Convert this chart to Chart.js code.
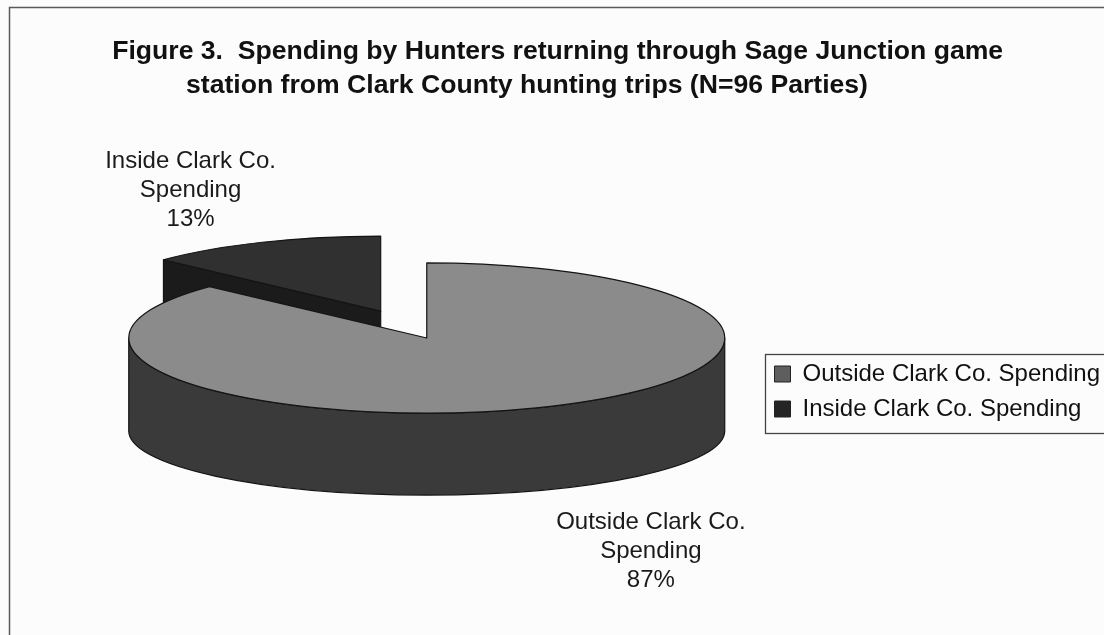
<!DOCTYPE html>
<html><head><meta charset="utf-8">
<script src="https://cdn.jsdelivr.net/npm/chart.js@4.4.1/dist/chart.umd.min.js"></script>
<style>
html,body{margin:0;padding:0;background:#fcfcfc;}
#wrap{position:relative;width:1104px;height:635px;}
</style></head><body>
<div id="wrap"><canvas id="c" width="1104" height="635"></canvas></div>
<script>
// ---- data ----
const categories = ['Outside Clark Co. Spending', 'Inside Clark Co. Spending'];
const shares = [87, 13];
const titleLines = [
  '   Figure 3.  Spending by Hunters returning through Sage Junction game',
  '             station from Clark County hunting trips (N=96 Parties)'
];
const topColors = ['#8b8b8b', '#303030'];
const sideColors = ['#3a3a3a', '#1b1b1b'];
const swatchColors = ['#5e5e5e', '#242424'];
const explode = [0, 116];

const FONT = "'Liberation Sans', Arial, Helvetica, sans-serif";
// view: top plane flattening, bottom plane flattening (slight perspective), wall height
const TILT = 0.252, TILT_B = 0.215, DEPTH = 93;
const LABEL_FX = 1.75, LABEL_FY = 1.75, LABEL_DX = 17, LABEL_LH = 29;

function sliceGeom(arc) {
  const mid = (arc.startAngle + arc.endAngle) / 2;
  const off = arc.options.offset || 0;
  return {
    mid, R: arc.outerRadius, a0: arc.startAngle, a1: arc.endAngle,
    cx: arc.x, cy: arc.y,
    ex: off * Math.cos(mid), ey: off * Math.sin(mid)
  };
}
// project a point of the (flat) pie, given in circle coordinates, onto top or bottom plane
function proj(g, px, py, bottom) {
  return bottom
    ? [g.cx + px, g.cy + DEPTH + py * TILT_B]
    : [g.cx + px, g.cy + py * TILT];
}

const pie3d = {
  id: 'pie3d',
  beforeDraw(chart) {
    const ctx = chart.ctx;
    ctx.save();
    ctx.fillStyle = '#fcfcfc';
    ctx.fillRect(0, 0, chart.width, chart.height);
    ctx.strokeStyle = '#5a5a5a';
    ctx.lineWidth = 1.5;
    ctx.strokeRect(9.5, 7.5, chart.width + 10, chart.height + 10);
    ctx.restore();
  },
  beforeDatasetsDraw(chart) {
    const ctx = chart.ctx;
    const meta = chart.getDatasetMeta(0);
    const items = meta.data.map((arc, i) => ({arc, i, g: sliceGeom(arc)}));
    items.sort((a, b) => Math.sin(a.g.mid) - Math.sin(b.g.mid));
    ctx.save();
    ctx.lineJoin = 'round';
    for (const {arc, i, g} of items) {
      const {R, a0, a1, ex, ey} = g;
      const rim = (t, bottom) => proj(g, ex + R * Math.cos(t), ey + R * Math.sin(t), bottom);
      const ctrT = proj(g, ex, ey, false), ctrB = proj(g, ex, ey, true);
      ctx.strokeStyle = arc.options.borderColor;
      ctx.lineWidth = arc.options.borderWidth;
      const side = sideColors[i];
      // radial faces that face the viewer
      const faces = [];
      if (Math.cos(a0) < -1e-6) faces.push(a0);
      if (Math.cos(a1) > 1e-6) faces.push(a1);
      for (const t of faces) {
        const p = rim(t, false), q = rim(t, true);
        ctx.beginPath();
        ctx.moveTo(ctrT[0], ctrT[1]);
        ctx.lineTo(p[0], p[1]);
        ctx.lineTo(q[0], q[1]);
        ctx.lineTo(ctrB[0], ctrB[1]);
        ctx.closePath();
        ctx.fillStyle = side;
        ctx.fill();
        ctx.stroke();
      }
      // curved outer wall (front half only)
      const TAU = Math.PI * 2;
      for (let n = Math.floor(a0 / TAU) - 1; n <= Math.ceil(a1 / TAU) + 1; n++) {
        const lo = Math.max(a0, n * TAU), hi = Math.min(a1, n * TAU + Math.PI);
        if (hi - lo > 1e-6) {
          const b = rim(hi, true);
          ctx.beginPath();
          ctx.ellipse(ctrT[0], ctrT[1], R, R * TILT, 0, lo, hi, false);
          ctx.lineTo(b[0], b[1]);
          ctx.ellipse(ctrB[0], ctrB[1], R, R * TILT_B, 0, hi, lo, true);
          ctx.closePath();
          ctx.fillStyle = side;
          ctx.fill();
          ctx.stroke();
        }
      }
      // top face
      ctx.beginPath();
      ctx.moveTo(ctrT[0], ctrT[1]);
      ctx.ellipse(ctrT[0], ctrT[1], R, R * TILT, 0, a0, a1, false);
      ctx.closePath();
      ctx.fillStyle = arc.options.backgroundColor;
      ctx.fill();
      ctx.stroke();
    }
    ctx.restore();
    return false;
  },
  afterDraw(chart) {
    const ctx = chart.ctx;
    const meta = chart.getDatasetMeta(0);
    const data = chart.data.datasets[0].data;
    const total = data.reduce((s, v) => s + v, 0);
    ctx.save();
    ctx.font = '24px ' + FONT;
    ctx.fillStyle = '#1a1a1a';
    ctx.textAlign = 'center';
    ctx.textBaseline = 'middle';
    meta.data.forEach((arc, i) => {
      const g = sliceGeom(arc);
      const front = Math.sin(g.mid) > 0;
      const c = proj(g, g.ex, g.ey, false);
      const bx = c[0] + LABEL_FX * g.R * Math.cos(g.mid) + LABEL_DX;
      const by = c[1] + LABEL_FY * g.R * TILT * Math.sin(g.mid) + (front ? DEPTH : 0);
      const words = chart.data.labels[i].split(' ');
      const lines = [words.slice(0, -1).join(' '), words[words.length - 1], Math.round(data[i] / total * 100) + '%'];
      lines.forEach((t, j) => ctx.fillText(t, bx, by + (j - 1) * LABEL_LH));
    });
    // legend frame
    const hb = chart.legend.legendHitBoxes;
    if (hb && hb.length) {
      const l = hb[0].left - 10, t = hb[0].top - 8;
      const last = hb[hb.length - 1];
      const b = last.top + last.height + 12;
      ctx.strokeStyle = '#444';
      ctx.lineWidth = 1.3;
      ctx.strokeRect(Math.round(l) + 0.5, Math.round(t) + 0.5, chart.width + 20 - l, Math.round(b - t));
    }
    ctx.restore();
  }
};

new Chart(document.getElementById('c'), {
  type: 'pie',
  data: {
    labels: categories,
    datasets: [{
      data: shares,
      backgroundColor: topColors,
      borderColor: '#141414',
      borderWidth: 1.2,
      offset: explode,
      radius: 298
    }]
  },
  options: {
    responsive: false,
    animation: false,
    events: [],
    layout: {padding: {left: 90, right: -6, top: 10, bottom: 62}},
    plugins: {
      tooltip: {enabled: false},
      title: {
        display: true,
        align: 'start',
        text: titleLines,
        color: '#111',
        font: {family: FONT, size: 26.6, weight: 'bold', lineHeight: 34 / 26.6},
        padding: {top: 25, bottom: 0}
      },
      legend: {
        position: 'right',
        align: 'start',
        title: {display: true, text: '', padding: {top: 329, bottom: 0}, font: {size: 10}},
        labels: {
          color: '#111',
          font: {family: FONT, size: 24},
          boxWidth: 16,
          boxHeight: 16,
          padding: 11,
          generateLabels: (chart) => chart.data.labels.map((text, i) => ({
            text, fillStyle: swatchColors[i], strokeStyle: '#222', fontColor: '#111',
            lineWidth: 1, hidden: false, index: i
          }))
        }
      }
    }
  },
  plugins: [pie3d]
});
</script>
</body></html>
